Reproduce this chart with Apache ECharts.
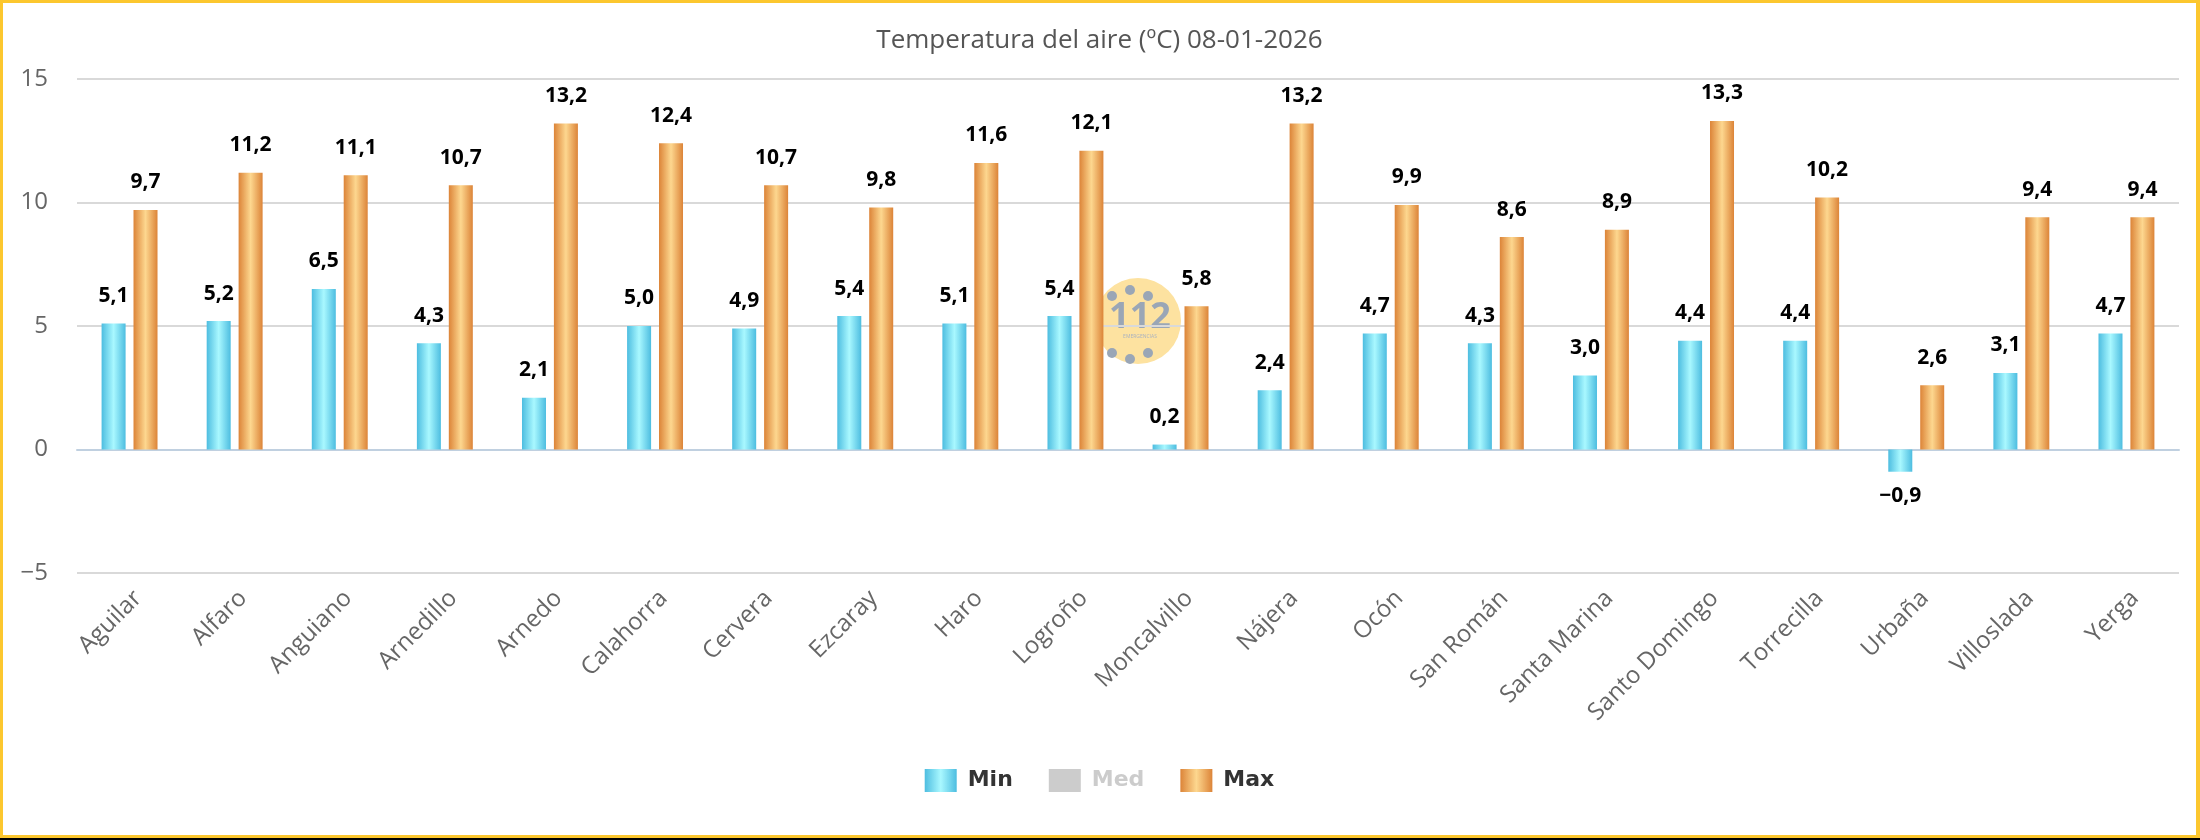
<!DOCTYPE html>
<html>
<head>
<meta charset="utf-8">
<title>Temperatura del aire</title>
<script src="https://cdn.jsdelivr.net/npm/echarts@6.0.0/dist/echarts.min.js"></script>
<style>
  html, body { margin: 0; padding: 0; background: #000; }
  #chart {
    width: 2200px; height: 838px; box-sizing: border-box;
    border: 3px solid #fcc72e; border-right-width: 4px; background: #fff;
  }
</style>
</head>
<body>
<div id="chart"></div>
<script>
// estaciones
var estaciones = ['Aguilar', 'Alfaro', 'Anguiano', 'Arnedillo', 'Arnedo', 'Calahorra', 'Cervera', 'Ezcaray',
  'Haro', 'Logroño', 'Moncalvillo', 'Nájera', 'Ocón', 'San Román', 'Santa Marina', 'Santo Domingo',
  'Torrecilla', 'Urbaña', 'Villoslada', 'Yerga']
// temperaturas (ºC)
var minValues = [5.1, 5.2, 6.5, 4.3, 2.1, 5.0, 4.9, 5.4, 5.1, 5.4, 0.2, 2.4, 4.7, 4.3, 3.0, 4.4, 4.4, -0.9, 3.1, 4.7]
var medValues = []   // serie oculta en la leyenda
var maxValues = [9.7, 11.2, 11.1, 10.7, 13.2, 12.4, 10.7, 9.8, 11.6, 12.1, 5.8, 13.2, 9.9, 8.6, 8.9, 13.3, 10.2, 2.6, 9.4, 9.4]
var yTicks = [-5, 0, 5, 10, 15]

var FONT = '"Open Sans", "Noto Sans", sans-serif'

function fmt(v) {
  return v.toFixed(1).replace('.', ',').replace('-', '\u2212')
}

// etiqueta debajo de la barra si el valor es negativo
function toData(arr) {
  return arr.map(function (v) {
    if (v < 0) return { value: v, label: { position: 'bottom', distance: 14 } }
    return v
  })
}

function barGradient(edge, middle) {
  return new echarts.graphic.LinearGradient(0, 0, 1, 0, [
    { offset: 0, color: edge },
    { offset: 0.5, color: middle },
    { offset: 1, color: edge }
  ])
}

var labelStyle = {
  show: true,
  position: 'top',
  distance: 17,
  color: '#000',
  fontFamily: FONT,
  fontWeight: 'bold',
  fontSize: 21,
  formatter: function (p) { return fmt(p.value) }
}

var chart = echarts.init(document.getElementById('chart'))

// logo 112 de fondo
var cx = 1135, cy = 318
var logo = [
  { type: 'circle', shape: { cx: cx, cy: cy, r: 43 }, style: { fill: '#fde2a0' }, z: -10 },
  { type: 'text', style: { x: cx + 2, y: cy - 3, text: '112', fill: '#9aa6b6', font: 'bold 36px "Open Sans"', align: 'center', verticalAlign: 'middle' }, z: -9 },
  { type: 'text', style: { x: cx + 2, y: cy + 16, text: 'EMERGENCIAS', fill: '#a9b2c0', font: '5px "Open Sans"', align: 'center', verticalAlign: 'middle' }, z: -9 }
]
var dots = [[-26, -25], [-8, -31], [10, -25], [-26, 32], [-8, 38], [10, 32]]
dots.forEach(function (d) {
  logo.push({ type: 'circle', shape: { cx: cx + d[0], cy: cy + d[1], r: 5 }, style: { fill: '#9aa6b6' }, z: -9 })
})

var option = {
  backgroundColor: '#fff',
  animation: false,
  title: {
    text: 'Temperatura del aire (ºC) 08-01-2026',
    left: 'center',
    top: 20,
    textStyle: { color: '#555', fontWeight: 'normal', fontSize: 26, fontFamily: FONT }
  },
  legend: {
    data: ['Min', 'Med', 'Max'],
    selected: { Med: false },
    bottom: 38,
    left: 'center',
    icon: 'rect',
    itemWidth: 32,
    itemHeight: 23,
    itemGap: 36,
    inactiveColor: '#ccc',
    textStyle: { color: '#333', fontWeight: 'bold', fontSize: 22, fontFamily: '"DejaVu Sans", sans-serif', padding: [0, 0, 0, 6] }
  },
  grid: { left: 74, right: 17, top: 76, bottom: 262, containLabel: false },
  xAxis: {
    type: 'category',
    data: estaciones,
    axisLine: { lineStyle: { color: '#c0d0e0', width: 2 } },
    axisTick: { length: 17, lineStyle: { color: '#c0d0e0', width: 2 } },
    axisLabel: { interval: 0, rotate: 45, margin: 13, verticalAlign: 'top', color: '#666', fontSize: 24, fontFamily: FONT }
  },
  yAxis: {
    type: 'value',
    min: yTicks[0],
    max: yTicks[yTicks.length - 1],
    interval: 5,
    axisLine: { show: false },
    axisTick: { show: false },
    splitLine: { lineStyle: { color: '#d9d9d9', width: 2 } },
    axisLabel: {
      margin: 29, color: '#666', fontSize: 24, fontFamily: FONT,
      formatter: function (v) { return String(v).replace('-', '\u2212') }
    }
  },
  graphic: logo,
  series: [
    {
      name: 'Min', type: 'bar', data: toData(minValues),
      barWidth: 24, barGap: '33%',
      itemStyle: { color: barGradient('#4dbde0', '#a9f8ff') },
      label: labelStyle
    },
    {
      name: 'Med', type: 'bar', data: medValues,
      barWidth: 24, barGap: '33%',
      itemStyle: { color: '#c0c0c0' },
      label: labelStyle
    },
    {
      name: 'Max', type: 'bar', data: toData(maxValues),
      barWidth: 24, barGap: '33%',
      itemStyle: { color: barGradient('#dc8438', '#fdd78f') },
      label: labelStyle
    }
  ]
}

chart.setOption(option)
</script>
</body>
</html>
